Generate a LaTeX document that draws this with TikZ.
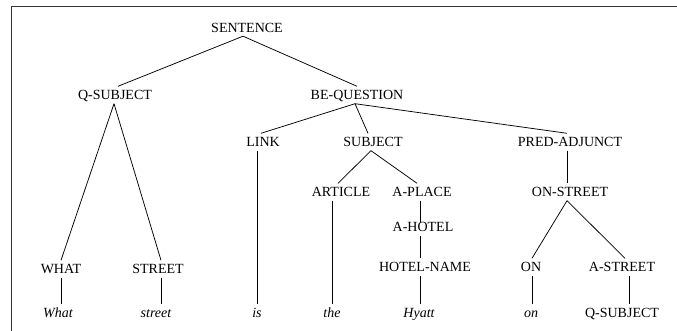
\documentclass[tikz,border=0pt]{standalone}
\usepackage{fontspec}
\setmainfont{Liberation Serif}
\begin{document}
\begin{tikzpicture}[x=1pt,y=-1pt,
  cat/.style={inner sep=0pt,outer xsep=0pt,outer ysep=4pt,text height=9.4pt,text depth=0pt,
    font=\fontsize{14}{16}\selectfont},
  word/.style={cat,font=\fontsize{14}{16}\selectfont\itshape},
  branch/.style={line width=0.75pt,black},
  frame/.style={line width=1.1pt,black!80}]
\useasboundingbox (0,0) rectangle (677,331);
% open frame along the left and top edges
\draw[frame] (11.3,335) -- (11.3,6.5) -- (680,6.5);

% category labels
\node[cat] (sentence) at (247,27.5) {SENTENCE};
\node[cat] (qsubj) at (115,95) {Q-SUBJECT};
\node[cat] (beq) at (357,95) {BE-QUESTION};
\node[cat] (what) at (61,269) {WHAT};
\node[cat] (street) at (158,269) {STREET};
\node[cat] (link) at (263,142) {LINK};
\node[cat] (subj) at (373,142) {SUBJECT};
\node[cat] (pred) at (570,142) {PRED-ADJUNCT};
\node[cat] (article) at (341,192) {ARTICLE};
\node[cat] (aplace) at (422,192) {A-PLACE};
\node[cat] (ahotel) at (423,227) {A-HOTEL};
\node[cat] (hotelname) at (425,267) {HOTEL-NAME};
\node[cat] (onstreet) at (570,192) {ON-STREET};
\node[cat] (on) at (531,267) {ON};
\node[cat] (astreet) at (622,267) {A-STREET};

% words of the sentence
\node[word] (wWhat) at (58,313) {What};
\node[word] (wstreet) at (156,313) {street};
\node[word] (wis) at (257,313) {is};
\node[word] (wthe) at (332,313) {the};
\node[word] (wHyatt) at (419,313) {Hyatt};
\node[word] (won) at (531,313) {on};
\node[cat] (qsubjend) at (622,313) {Q-SUBJECT};

% branches
\draw[branch] ([xshift=-4pt]sentence.south) -- ([xshift=3pt]qsubj.north);
\draw[branch] ([xshift=-4pt]sentence.south) -- (beq.north);
\draw[branch] ([xshift=-1pt]qsubj.south) -- (what.north);
\draw[branch] ([xshift=-1pt]qsubj.south) -- ([xshift=3pt]street.north);
\draw[branch] (what.south) -- ([xshift=3pt]wWhat.north);
\draw[branch] ([xshift=3pt]street.south) -- ([xshift=5pt]wstreet.north);
\draw[branch] ([xshift=-2pt]beq.south) -- ([xshift=-2pt]link.north);
\draw[branch] ([xshift=-2pt]beq.south) -- ([xshift=-5pt]subj.north);
\draw[branch] ([xshift=-2pt]beq.south) -- ([xshift=-3pt]pred.north);
\draw[branch] ([xshift=-6pt]link.south) -- (wis.north);
\draw[branch] ([xshift=-2pt]subj.south) -- ([xshift=-3pt]article.north);
\draw[branch] ([xshift=-2pt]subj.south) -- ([xshift=-5pt]aplace.north);
\draw[branch] ([xshift=-9pt]article.south) -- (wthe.north);
\draw[branch] ([xshift=-2pt]aplace.south) -- ([xshift=-3pt,yshift=-3.5pt]ahotel.north);
\draw[branch] ([xshift=-3pt]ahotel.south) -- ([xshift=-5pt]hotelname.north);
\draw[branch] ([xshift=-5pt]hotelname.south) -- ([xshift=1pt]wHyatt.north);
\draw[branch] ([xshift=-3pt]pred.south) -- ([xshift=-3pt]onstreet.north);
\draw[branch] ([xshift=-3pt]onstreet.south) -- ([xshift=1pt]on.north);
\draw[branch] ([xshift=-3pt]onstreet.south) -- ([xshift=3pt]astreet.north);
\draw[branch] ([xshift=1pt]on.south) -- ([xshift=1pt]won.north);
\draw[branch] ([xshift=7pt]astreet.south) -- ([xshift=7pt]qsubjend.north);
\end{tikzpicture}
\end{document}
